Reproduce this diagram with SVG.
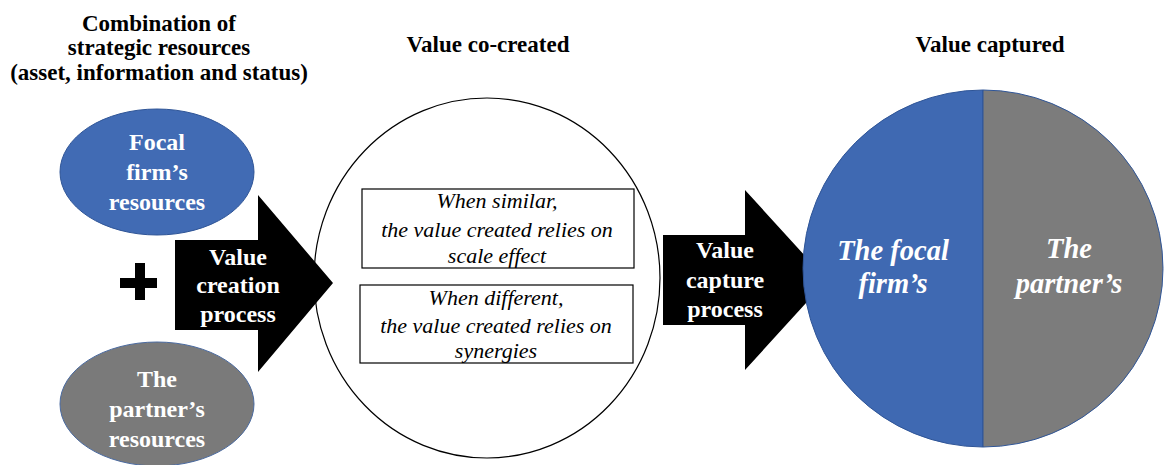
<svg xmlns="http://www.w3.org/2000/svg" width="1175" height="465" viewBox="0 0 1175 465">
<style>
text{font-family:"Liberation Serif","Times New Roman",serif;text-anchor:middle}
.t{font-weight:bold;fill:#000;font-size:23px}
.w{font-weight:bold;fill:#fff;font-size:24px}
.i{font-style:italic;fill:#000;font-size:22px}
.p{font-style:italic;font-weight:bold;fill:#fff;font-size:28.5px}
.blue{fill:#416bb4;stroke:#2f5597;stroke-width:1}
.grey{fill:#7a7a7a;stroke:#4a6aa0;stroke-width:1}
.box{fill:#fff;stroke:#000;stroke-width:1.2}
</style>
<rect width="1175" height="465" fill="#fff"/>
<g id="titles">
<text class="t" x="159" y="31">Combination of</text>
<text class="t" x="159" y="55">strategic resources</text>
<text class="t" x="159" y="80">(asset, information and status)</text>
<text class="t" x="488" y="52">Value co-created</text>
<text class="t" x="990" y="52">Value captured</text>
</g>
<g id="focal-resources">
<ellipse class="blue" cx="157" cy="172" rx="97" ry="63"/>
<text class="w" x="157" y="150">Focal</text>
<text class="w" x="157" y="180">firm’s</text>
<text class="w" x="157" y="210">resources</text>
</g>
<g id="plus">
<path d="M120 283H157M140 263V300" stroke="#000" stroke-width="10" fill="none"/>
</g>
<g id="partner-resources">
<ellipse class="grey" cx="157" cy="404" rx="97" ry="62"/>
<text class="w" x="157" y="387">The</text>
<text class="w" x="157" y="417">partner’s</text>
<text class="w" x="157" y="447">resources</text>
</g>
<g id="value-co-created">
<ellipse cx="487" cy="278" rx="173" ry="180" fill="#fff" stroke="#000" stroke-width="1.2"/>
</g>
<g id="connectors">
<g id="value-creation-process">
<path d="M175 240H258V195L333 283L258 372V330H175Z" fill="#000"/>
<text class="w" x="238" y="265">Value</text>
<text class="w" x="238" y="293">creation</text>
<text class="w" x="238" y="322">process</text>
</g>
<g id="value-capture-process">
<path d="M663 235H745V190L827 280L745 370V325H663Z" fill="#000"/>
<text class="w" x="725" y="258">Value</text>
<text class="w" x="725" y="288">capture</text>
<text class="w" x="725" y="317">process</text>
</g>
</g>
<g id="box-similar">
<rect class="box" x="362" y="189" width="272" height="79"/>
<text class="i" x="497" y="208">When similar,</text>
<text class="i" x="497" y="237">the value created relies on</text>
<text class="i" x="497" y="263">scale effect</text>
</g>
<g id="box-different">
<rect class="box" x="360" y="285" width="273" height="78"/>
<text class="i" x="496" y="305">When different,</text>
<text class="i" x="496" y="333">the value created relies on</text>
<text class="i" x="496" y="358">synergies</text>
</g>
<g id="value-captured">
<path d="M983 90A180 178.5 0 0 0 983 447Z" fill="#3f69b2" stroke="#2f5597" stroke-width="1"/>
<path d="M983 90A180 178.5 0 0 1 983 447Z" fill="#7c7c7c" stroke="#2f5597" stroke-width="1"/>
<text class="p" x="893" y="260">The focal</text>
<text class="p" x="893" y="293">firm’s</text>
<text class="p" x="1069" y="258">The</text>
<text class="p" x="1069" y="293">partner’s</text>
</g>
</svg>
